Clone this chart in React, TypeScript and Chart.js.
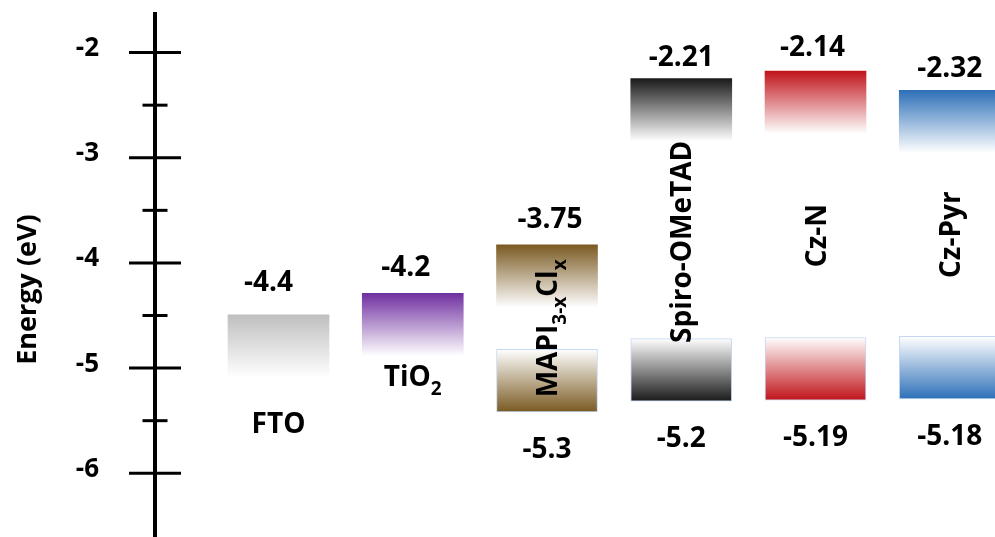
import { useEffect, useRef } from 'react';
import { Chart, registerables } from 'chart.js';

Chart.register(...registerables);

// Band-edge energies (eV) for each layer of the device stack
const nameParts: [string, boolean][][] = [
  [['FTO', false]],
  [['TiO', false], ['2', true]],
  [['MAPI', false], ['3-x', true], ['Cl', false], ['x', true]],
  [['Spiro-OMeTAD', false]],
  [['Cz-N', false]],
  [['Cz-Pyr', false]],
];
const lumoLevels = [-4.4, -4.2, -3.75, -2.21, -2.14, -2.32];
const homoLevels: (number | null)[] = [null, null, -5.3, -5.2, -5.19, -5.18];
const majorTicks = [-2, -3, -4, -5, -6];
const minorTicks = [-2.5, -3.5, -4.5, -5.5];
const axisTitle = 'Energy (eV)';

// Styling / layout
const bandColors = ['#bfbfbf', '#7030a0', '#7a5a22', '#1a1a1a', '#c0141a', '#2e70b8'];
const rotatedName = [false, false, true, true, true, true];
const NAME_SHIFT = [46, 20, 0, 2, 0, -10];
const VALUE_GAP_TOP = [32, 25, 25, 21, 23, 21];
const VALUE_NUDGE_X = [-10, -7, 3, 0, -3, 0];
const VALUE_GAP_BOTTOM = 38;
const BAND_DEPTH = 0.58;
const FONT = '"Open Sans", Lato, "DejaVu Sans", sans-serif';

function drawRich(
  ctx: CanvasRenderingContext2D,
  parts: [string, boolean][],
  cx: number,
  cy: number,
  rotated: boolean
) {
  const main = `bold 28px ${FONT}`;
  const sub = `bold 19px ${FONT}`;
  let total = 0;
  const widths = parts.map(([t, s]) => {
    ctx.font = s ? sub : main;
    const w = ctx.measureText(t).width;
    total += w;
    return w;
  });
  ctx.save();
  ctx.translate(cx, cy);
  if (rotated) ctx.rotate(-Math.PI / 2);
  ctx.textAlign = 'left';
  ctx.textBaseline = 'alphabetic';
  ctx.fillStyle = '#000';
  let x = -total / 2;
  parts.forEach(([t, s], i) => {
    ctx.font = s ? sub : main;
    ctx.fillText(t, x, s ? 19 : 10);
    x += widths[i];
  });
  ctx.restore();
}

const bandLabels = {
  id: 'bandLabels',
  afterDatasetsDraw(chart: any) {
    const { ctx } = chart;
    const xs = chart.scales.x;
    const ys = chart.scales.y;
    ctx.save();
    ctx.fillStyle = '#000';
    ctx.textAlign = 'center';
    ctx.textBaseline = 'middle';
    ctx.font = `bold 28px ${FONT}`;
    lumoLevels.forEach((v, i) => {
      const cx = xs.getPixelForValue(i);
      ctx.fillText(String(v), cx + VALUE_NUDGE_X[i], ys.getPixelForValue(v) - VALUE_GAP_TOP[i]);
      const h = homoLevels[i];
      if (h !== null) ctx.fillText(String(h), cx, ys.getPixelForValue(h) + VALUE_GAP_BOTTOM);
    });
    lumoLevels.forEach((v, i) => {
      const cx = xs.getPixelForValue(i);
      const lumoBottom = ys.getPixelForValue(v - BAND_DEPTH);
      const h = homoLevels[i];
      let cy: number;
      if (rotatedName[i] && h !== null) {
        cy = (lumoBottom + ys.getPixelForValue(h + BAND_DEPTH)) / 2 + NAME_SHIFT[i];
      } else {
        cy = lumoBottom + NAME_SHIFT[i];
      }
      drawRich(ctx, nameParts[i], cx, cy, rotatedName[i]);
    });
    ctx.restore();
  },
};

const energyAxis = {
  id: 'energyAxis',
  afterDraw(chart: any) {
    const s = chart.scales.yAxis;
    const { ctx, chartArea } = chart;
    const ax = chartArea.left;
    ctx.save();
    ctx.strokeStyle = '#000';
    ctx.lineCap = 'butt';
    ctx.lineWidth = 4;
    ctx.beginPath();
    ctx.moveTo(ax, chartArea.top + 12);
    ctx.lineTo(ax, chartArea.bottom);
    ctx.stroke();
    ctx.lineWidth = 3;
    s.ticks.forEach((t: any) => {
      const py = s.getPixelForValue(t.value);
      const half = Number.isInteger(t.value) ? 26 : 12.5;
      ctx.beginPath();
      ctx.moveTo(ax - half, py);
      ctx.lineTo(ax + half, py);
      ctx.stroke();
    });
    ctx.translate(28, (chartArea.top + chartArea.bottom) / 2 + 21);
    ctx.rotate(-Math.PI / 2);
    ctx.font = `bold 27px ${FONT}`;
    ctx.fillStyle = '#000';
    ctx.textAlign = 'center';
    ctx.textBaseline = 'middle';
    ctx.fillText(axisTitle, 0, 0);
    ctx.restore();
  },
};

export default function App() {
  const ref = useRef<HTMLCanvasElement>(null);

  useEffect(() => {
    const canvas = ref.current;
    if (!canvas) return;

    const gradientFill = (upper: boolean) => (c: any) => {
      const chart = c.chart;
      const raw = c.raw;
      const color = bandColors[raw?.x ?? 0];
      if (c.type !== 'data' || !chart.chartArea || !raw) return color;
      const ys = chart.scales.y;
      const top = ys.getPixelForValue(raw.y[1]);
      const bottom = ys.getPixelForValue(raw.y[0]);
      const g = chart.ctx.createLinearGradient(0, top, 0, bottom);
      if (upper) {
        g.addColorStop(0, color);
        g.addColorStop(1, '#ffffff');
      } else {
        g.addColorStop(0, '#ffffff');
        g.addColorStop(1, color);
      }
      return g;
    };

    const upperData = lumoLevels.map((v, i) => ({ x: i, y: [v - BAND_DEPTH, v] }));
    const lowerData = homoLevels.flatMap((v, i) =>
      v === null ? [] : [{ x: i, y: [v, v + BAND_DEPTH] }]
    );

    const chart = new Chart(canvas, {
      type: 'bar',
      data: {
        datasets: [
          {
            data: upperData as any,
            backgroundColor: gradientFill(true),
            borderWidth: 0,
            grouped: false,
            barThickness: 101,
          },
          {
            data: lowerData as any,
            backgroundColor: gradientFill(false),
            borderColor: 'rgba(190,212,240,0.9)',
            borderWidth: 1,
            borderSkipped: false,
            grouped: false,
            barThickness: 101,
          },
        ],
      },
      options: {
        responsive: false,
        animation: false,
        devicePixelRatio: 1,
        layout: { padding: 0 },
        plugins: { legend: { display: false }, tooltip: { enabled: false } },
        scales: {
          x: {
            type: 'linear',
            min: -0.92,
            max: 5.337,
            offset: false,
            display: false,
          },
          y: {
            type: 'linear',
            min: -6.459,
            max: -1.482,
            display: false,
          },
          yAxis: {
            type: 'linear',
            position: 'left',
            min: -6.606,
            max: -1.5,
            border: { display: false },
            grid: { display: false, drawTicks: false },
            afterBuildTicks: (axis: any) => {
              axis.ticks = [...majorTicks, ...minorTicks]
                .sort((a, b) => a - b)
                .map((value) => ({ value }));
            },
            afterFit: (axis: any) => {
              axis.width = 155;
              axis.paddingTop = 0;
              axis.paddingBottom = 0;
            },
            ticks: {
              autoSkip: false,
              padding: 56,
              labelOffset: -4,
              color: '#000',
              font: { family: FONT, size: 26, weight: 'bold' },
              callback: (v: any) => (majorTicks.includes(Number(v)) ? String(v) : ''),
            },
          },
        },
      },
      plugins: [bandLabels, energyAxis],
    });

    return () => chart.destroy();
  }, []);

  return (
    <div style={{ position: 'fixed', left: 0, top: 0, width: 995, height: 537, background: '#fff' }}>
      <canvas ref={ref} width={995} height={537} style={{ display: 'block' }} />
    </div>
  );
}
